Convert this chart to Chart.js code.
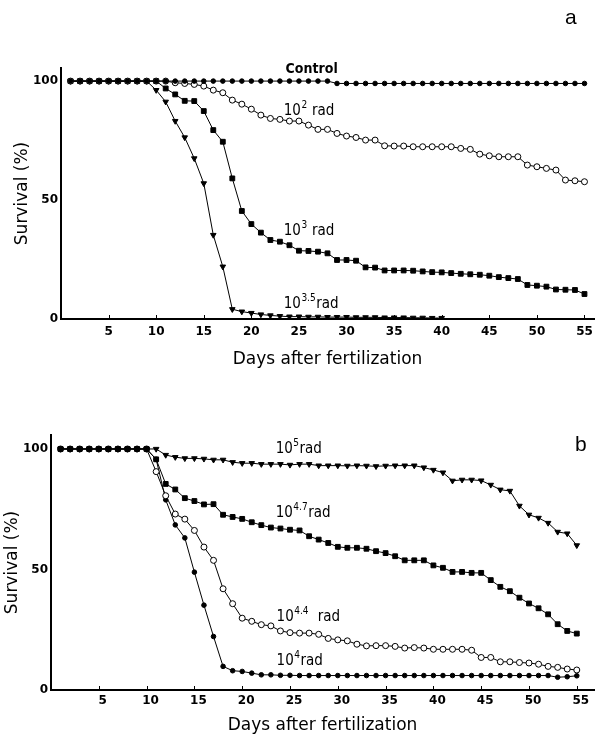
<!DOCTYPE html>
<html>
<head>
<meta charset="utf-8">
<script src="https://cdn.jsdelivr.net/npm/chart.js@4.4.1/dist/chart.umd.min.js"></script>
<style>
    body { margin: 0; background: #fff; }
    #wrapper { position: relative; width: 599px; height: 736px; }
    #wrapper canvas { position: absolute; left: 0; }
    #graficoA { top: 0; }
    #graficoB { top: 370px; }
</style>
</head>
<body>
<div id="wrapper">
    <canvas id="graficoA" width="599" height="370"></canvas>
    <canvas id="graficoB" width="599" height="366"></canvas>
</div>
<script>
"use strict"

// days after fertilization (x axis) and tick labels
const days = [1,2,3,4,5,6,7,8,9,10,11,12,13,14,15,16,17,18,19,20,21,22,23,24,25,26,27,28,
    29,30,31,32,33,34,35,36,37,38,39,40,41,42,43,44,45,46,47,48,49,50,51,52,53,54,55];
const xTicks = [5,10,15,20,25,30,35,40,45,50,55];
const yTicks = [0,50,100];

// panel a - survival (%)
const control = [100,100,100,100,100,100,100,100,100,100,100,100,100,100,100,100,100,100,100,100,
    100,100,100,100,100,100,100,100,99,99,99,99,99,99,99,99,99,99,99,99,
    99,99,99,99,99,99,99,99,99,99,99,99,99,99,99];
const rad2 = [100,100,100,100,100,100,100,100,100,100,100,99.3,99,98.6,97.9,96.2,95.1,92,90.3,88.2,
    85.7,84.3,83.9,83.2,83.2,81.5,79.7,79.7,78,76.9,76.3,75.2,75.2,72.8,72.7,72.7,72.4,72.4,72.4,72.4,
    72.4,71.7,71.3,69.3,68.6,68.2,68.2,68.2,64.7,64,63.3,62.6,58.4,58.1,57.7];
const rad3 = [100,100,100,100,100,100,100,100,100,100,96.9,94.4,91.7,91.6,87.4,79.4,74.5,59.1,45.4,39.9,
    36.3,33.2,32.5,31,28.7,28.6,28.3,27.6,24.8,24.8,24.5,21.7,21.6,20.4,20.4,20.4,20.3,20,19.7,19.6,
    19.3,19,18.8,18.6,18.2,17.6,17.2,16.8,14.3,14,13.6,12.4,12.3,12.2,10.5];
const rad35 = [100,100,100,100,100,100,100,100,100,96.2,91.3,83.2,76.3,67.5,57,35.3,22,4.1,3.1,2.5,
    1.9,1.5,1.2,1,1,0.9,0.9,0.8,0.8,0.8,0.7,0.7,0.7,0.6,0.6,0.6,0.5,0.5,0.4,0.4,
    null,null,null,null,null,null,null,null,null,null,null,null,null,null,null];

// panel b - survival (%)
const rad5 = [100,100,100,100,100,100,100,100,100,100,100,97.5,96.6,96.1,96.1,95.9,95.5,95.5,94.5,94.1,
    94.1,93.7,93.7,93.7,93.4,93.7,93.7,93.1,93.1,93.1,93,93.1,93,92.8,93,93.1,93.1,93.1,92.3,91.3,
    90.2,86.8,87.2,87.2,86.9,85.1,83.1,82.6,76.4,72.7,71.4,69.3,65.6,64.9,60];
const rad47 = [100,100,100,100,100,100,100,100,100,100,95.7,85.5,83.2,79.6,78.4,77,77.1,72.7,71.8,71,
    69.6,68.4,67.4,67,66.5,66.2,63.8,62.4,61,59.4,59,59,58.6,57.6,56.8,55.5,53.8,53.8,53.8,51.7,
    50.7,49,49,48.6,48.6,45.6,42.8,41,38.3,35.9,33.9,31.4,27.3,24.5,23.4];
const rad44 = [100,100,100,100,100,100,100,100,100,100,90.6,80.6,73,70.9,66.2,59.3,53.8,42,35.8,29.8,
    28.5,27.1,26.6,24.5,23.8,23.6,23.6,23.1,21.4,20.8,20.4,19,18.3,18.4,18.4,18.1,17.4,17.6,17.4,16.9,
    16.9,16.9,16.9,16.5,13.5,13.5,11.7,11.7,11.4,11.2,10.7,9.8,9.4,8.7,8.3];
const rad4 = [100,100,100,100,100,100,100,100,100,100,95.7,78.9,68.5,63.1,48.9,35.2,22.2,9.8,8,7.7,
    7,6.3,6.3,6.1,6.1,6,6,6,6,6,6,6,6,6,6,6,6,6,6,6,
    6,6,6,6,6,6,6,6,6,6,6,6,5.3,5.5,5.9];

// curve labels, placed in data units (day, survival)
const labelsA = [
    {base: "Control", bold: true, day: 23.6, value: 103.4},
    {base: "10", sup: "2", rest: " rad", day: 23.4, value: 85.8},
    {base: "10", sup: "3", rest: " rad", day: 23.4, value: 35.3},
    {base: "10", sup: "3.5", rest: "rad", day: 23.4, value: 4.6}
];
const labelsB = [
    {base: "10", sup: "5", rest: "rad", day: 23.5, value: 98.3},
    {base: "10", sup: "4.7", rest: "rad", day: 23.5, value: 71.8},
    {base: "10", sup: "4.4", rest: "  rad", day: 23.6, value: 28.6},
    {base: "10", sup: "4", rest: "rad", day: 23.6, value: 10.4}
];

function serie(values, style)
{
    let ds = {
        data: values.map((v, i) => ({x: days[i], y: v})),
        borderColor: "#000",
        borderWidth: 1,
        tension: 0,
        fill: false,
        spanGaps: false,
        pointBorderColor: "#000",
        pointBorderWidth: 1,
        pointBackgroundColor: "#000"
    };
    if (style == "dot") { ds.pointStyle = "circle"; ds.pointRadius = 2.3; }
    if (style == "open") { ds.pointStyle = "circle"; ds.pointRadius = 3; ds.pointBackgroundColor = "#fff"; }
    if (style == "square") { ds.pointStyle = "rect"; ds.pointRadius = 3.4; }
    if (style == "tri") { ds.pointStyle = "triangle"; ds.pointRotation = 180; ds.pointRadius = 3.2; }
    return ds;
}

// labels, panel letter and small inward ticks on the x axis
const decorazioni = {
    id: "decorazioni",
    afterDatasetsDraw(chart, args, opts) {
        let ctx = chart.ctx;
        let xs = chart.scales.x;
        let ys = chart.scales.y;
        ctx.save();
        ctx.fillStyle = "#000";
        ctx.strokeStyle = "#000";
        ctx.textBaseline = "alphabetic";
        ctx.textAlign = "left";
        const big = '15px "DejaVu Sans Condensed"';
        for (const l of opts.items)
        {
            let x = xs.getPixelForValue(l.day);
            let y = ys.getPixelForValue(l.value);
            ctx.font = l.bold ? 'bold 14px "DejaVu Sans Condensed"' : big;
            ctx.fillText(l.base, x, y);
            x += ctx.measureText(l.base).width;
            if (l.sup)
            {
                ctx.font = '10px "DejaVu Sans Condensed"';
                ctx.fillText(l.sup, x + 0.5, y - 7);
                x += ctx.measureText(l.sup).width + 1;
                ctx.font = big;
                ctx.fillText(l.rest, x, y);
            }
        }
        ctx.font = '21px "Liberation Sans"';
        ctx.fillText(opts.letter, opts.letterX, opts.letterY);

        ctx.lineWidth = 1;
        let bottom = chart.chartArea.bottom;
        for (const t of xs.ticks)
        {
            let px = Math.round(xs.getPixelForValue(t.value)) + 0.5;
            ctx.beginPath();
            ctx.moveTo(px, bottom);
            ctx.lineTo(px, bottom - 4);
            ctx.stroke();
        }
        ctx.restore();
    }
};

function opzioni(p)
{
    return {
        responsive: false,
        animation: false,
        devicePixelRatio: 1,
        layout: {padding: {left: 0, top: p.top, right: p.right, bottom: 0}},
        plugins: {
            legend: {display: false},
            tooltip: {enabled: false},
            decorazioni: {items: p.labels, letter: p.letter, letterX: p.letterX, letterY: p.letterY}
        },
        scales: {
            x: {
                type: "linear",
                min: 0,
                max: p.xMax,
                afterBuildTicks: s => { s.ticks = xTicks.map(v => ({value: v})); },
                afterFit: s => { s.height = p.xHeight; },
                grid: {drawOnChartArea: false, drawTicks: false},
                border: {color: "#000", width: 2},
                ticks: {
                    color: "#000",
                    font: {family: "DejaVu Sans", weight: "bold", size: 12},
                    padding: p.xPad,
                    labelOffset: p.labelOffset,
                    maxRotation: 0,
                    autoSkip: false
                },
                title: {
                    display: true,
                    text: "Days after fertilization",
                    color: "#000",
                    font: {family: "DejaVu Sans", size: 17},
                    padding: {top: 0, bottom: 0}
                }
            },
            y: {
                min: 0,
                max: p.yMax,
                afterBuildTicks: s => { s.ticks = yTicks.map(v => ({value: v})); },
                afterFit: s => { s.width = p.yWidth; },
                grid: {drawOnChartArea: false, drawTicks: false},
                border: {color: "#000", width: 2},
                ticks: {
                    color: "#000",
                    font: {family: "DejaVu Sans", weight: "bold", size: 12},
                    padding: 3
                },
                title: {
                    display: true,
                    text: "Survival (%)",
                    color: "#000",
                    font: {family: "DejaVu Sans", size: 17},
                    padding: {top: p.yTitlePad, bottom: 0}
                }
            }
        }
    };
}

new Chart(document.getElementById("graficoA"), {
    type: "line",
    data: {
        datasets: [
            serie(control, "dot"),
            serie(rad2, "open"),
            serie(rad3, "square"),
            serie(rad35, "tri")
        ]
    },
    options: opzioni({
        top: 68, right: 1, xMax: 56, yMax: 105.5, xHeight: 51, yWidth: 61,
        xPad: 6, labelOffset: 0, yTitlePad: 12,
        labels: labelsA, letter: "a", letterX: 565, letterY: 24
    }),
    plugins: [decorazioni]
});

new Chart(document.getElementById("graficoB"), {
    type: "line",
    data: {
        datasets: [
            serie(rad5, "tri"),
            serie(rad47, "square"),
            serie(rad44, "open"),
            serie(rad4, "dot")
        ]
    },
    options: opzioni({
        top: 65, right: 2, xMax: 56.8, yMax: 105.8, xHeight: 46, yWidth: 51,
        xPad: 4, labelOffset: 4, yTitlePad: 2,
        labels: labelsB, letter: "b", letterX: 575, letterY: 81
    }),
    plugins: [decorazioni]
});
</script>
</body>
</html>
